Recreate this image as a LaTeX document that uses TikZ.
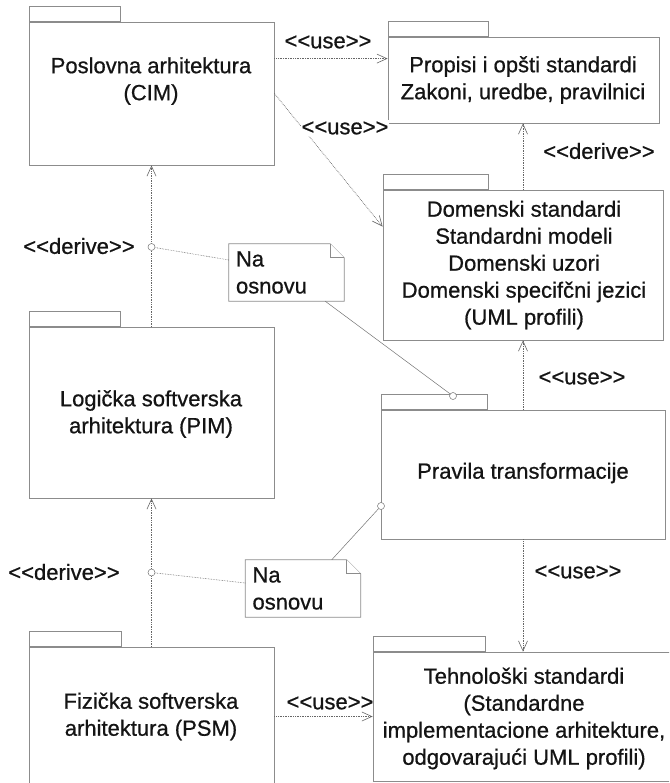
\documentclass[tikz,border=0pt]{standalone}
\usepackage{fontspec}
\setmainfont{Liberation Sans}[FakeBold=0.7]
\usetikzlibrary{arrows.meta}
\begin{document}
\begin{tikzpicture}[x=1pt,y=-1pt]
\tikzset{paquet/.style={draw=black!45, line width=0.8pt, fill=white, inner sep=0pt},
onglet/.style={draw=black!45, line width=0.8pt, inner sep=0pt, minimum height=15pt, anchor=south west},
texte/.style={align=center, inner sep=0pt, text=black!92, font=\fontsize{22pt}{27pt}\selectfont},
etiq/.style={inner sep=1pt, text=black!92, font=\fontsize{22pt}{27pt}\selectfont},
dep/.style={draw=black!60, densely dotted, line width=0.7pt, -{Straight Barb[length=10pt, width=9pt, line width=0.6pt]}},
lien/.style={draw=black!55, line width=0.5pt},
lienpt/.style={draw=black!60, densely dotted, line width=0.6pt},
point/.style={circle, solid, draw=black!55, fill=white, line width=0.5pt, inner sep=0pt, minimum size=7pt},
note/.style={inner xsep=7pt, inner ysep=3pt, text width=101pt, minimum height=57pt, align=left, text=black!92, font=\fontsize{22pt}{27pt}\selectfont},
contour/.style={draw=black!45, line width=0.8pt, fill=white}}
\useasboundingbox (0,0) rectangle (669,783);
\clip (0,0) rectangle (669,783);
\node[paquet, minimum width=245pt, minimum height=143pt] (CIM) at (151.5,93.5) {};
\node[onglet, minimum width=91pt] (CIMt) at (CIM.north west) {};
\node[texte] (CIMx) at (151,81) {Poslovna arhitektura\\(CIM)};
\node[paquet, minimum width=271pt, minimum height=86pt] (PROP) at (523.5,80) {};
\node[onglet, minimum width=100pt] (PROPt) at (PROP.north west) {};
\node[texte] (PROPx) at (523,80) {Propisi i opšti standardi\\Zakoni, uredbe, pravilnici};
\node[paquet, minimum width=280pt, minimum height=150pt] (DOM) at (523,265) {};
\node[onglet, minimum width=105pt] (DOMt) at (DOM.north west) {};
\node[texte] (DOMx) at (524,265) {Domenski standardi\\Standardni modeli\\Domenski uzori\\Domenski specifčni jezici\\(UML profili)};
\node[paquet, minimum width=245pt, minimum height=171pt] (PIM) at (151.5,412.5) {};
\node[onglet, minimum width=91pt] (PIMt) at (PIM.north west) {};
\node[texte] (PIMx) at (151,414) {Logička softverska\\arhitektura (PIM)};
\node[paquet, minimum width=284pt, minimum height=129pt] (PRAV) at (523,474.5) {};
\node[onglet, minimum width=106pt] (PRAVt) at (PRAV.north west) {};
\node[texte] (PRAVx) at (523,473) {Pravila transformacije};
\node[paquet, minimum width=245pt, minimum height=139pt] (PSM) at (151.5,716.5) {};
\node[onglet, minimum width=92pt] (PSMt) at (PSM.north west) {};
\node[texte] (PSMx) at (151,716.5) {Fizička softverska\\arhitektura (PSM)};
\node[paquet, minimum width=302pt, minimum height=129pt] (TEH) at (524,716.5) {};
\node[onglet, minimum width=112pt] (TEHt) at (TEH.north west) {};
\node[texte] (TEHx) at (524,718.5) {Tehnološki standardi\\(Standardne\\implementacione arhitekture,\\odgovarajući UML profili)};
\node[note] (N1) at (286.5,272.5) {Na\\osnovu};
\draw[contour] (N1.south west) -- (N1.north west) -- ([xshift=-14pt]N1.north east) -- ([yshift=-14pt]N1.north east) -- (N1.south east) -- cycle;
\draw[contour] ([xshift=-14pt]N1.north east) |- ([yshift=-14pt]N1.north east);
\node[note] at (N1) {Na\\osnovu};
\node[note] (N2) at (303,588.5) {Na\\osnovu};
\draw[contour] (N2.south west) -- (N2.north west) -- ([xshift=-14pt]N2.north east) -- ([yshift=-14pt]N2.north east) -- (N2.south east) -- cycle;
\draw[contour] ([xshift=-14pt]N2.north east) |- ([yshift=-14pt]N2.north east);
\node[note] at (N2) {Na\\osnovu};
\coordinate (A1) at ([yshift=-37pt]CIM.north east);
\draw[dep] (A1) -- (A1 -| PROP.west);
\node[etiq] (L1) at (328,42) {<{}<use>{}>};
\draw[dep] (CIM.east) -- ([yshift=-37pt]DOM.north west);
\node[etiq, fill=white] (L2) at (345,128) {<{}<use>{}>};
\draw[dep] (DOM.north) -- (DOM.north |- PROP.south);
\node[etiq] (L3) at (599,151) {<{}<derive>{}>};
\draw[dep] (PIM.north) -- node[point, pos=0.494] (D1) {} (CIM.south);
\node[etiq] (L4) at (79,246) {<{}<derive>{}>};
\draw[dep] (PRAV.north) -- (PRAV.north |- DOM.south);
\node[etiq] (L5) at (582,378) {<{}<use>{}>};
\draw[dep] (PRAV.south) -- (PRAV.south |- TEH.north);
\node[etiq] (L6) at (578,572) {<{}<use>{}>};
\draw[dep] (PSM.north) -- node[point, pos=0.5] (D2) {} (PIM.south);
\node[etiq] (L7) at (64,572) {<{}<derive>{}>};
\draw[dep] (PSM.east) -- (TEH.west);
\node[etiq] (L8) at (330,703) {<{}<use>{}>};
\node[point] (C1) at (453,396) {};
\node[point] (C2) at (381,506) {};
\draw[lienpt] ([yshift=12.5pt]N1.west) -- (D1);
\draw[lien] ([xshift=-19pt]N1.south east) -- (C1);
\draw[lienpt] ([yshift=5.5pt]N2.west) -- (D2);
\draw[lien] ([xshift=-29pt]N2.north east) -- (C2);
\end{tikzpicture}
\end{document}
